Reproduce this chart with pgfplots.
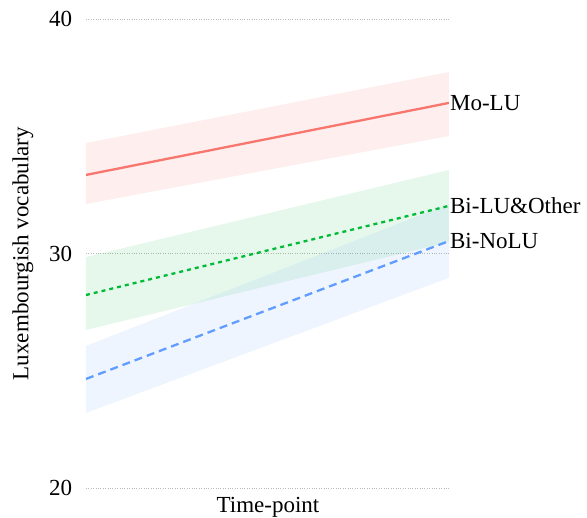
\documentclass[border=0pt]{standalone}
\usepackage{fontspec}
\setmainfont{Liberation Serif}
\usepackage{pgfplots}
\pgfplotsset{compat=1.18}
\definecolor{cred}{HTML}{F8766D}
\definecolor{cgreen}{HTML}{00BA38}
\definecolor{cblue}{HTML}{619CFF}
\begin{document}
\fontsize{23}{27}\selectfont
\begin{tikzpicture}
\begin{axis}[
  scale only axis,
  width=364pt, height=469pt,
  xmin=1, xmax=2.003, ymin=20, ymax=40,
  axis line style={draw=none},
  major tick length=0pt,
  ytick={20,30,40},
  xtick=\empty,
  ymajorgrids,
  grid style={dotted, gray!55, line width=0.8pt},
  /pgf/number format/assume math mode=true,
  ticklabel style={font=\fontsize{23}{27}\selectfont},
  yticklabel style={xshift=-6pt},
  clip=false,
]
% ribbons
\addplot[draw=none, fill=cred, fill opacity=0.12] coordinates {(1,34.71) (2,37.74) (2,35.01) (1,32.11)} -- cycle;
\addplot[draw=none, fill=cgreen, fill opacity=0.1] coordinates {(1,29.85) (2,33.56) (2,30.49) (1,26.74)} -- cycle;
\addplot[draw=none, fill=cblue, fill opacity=0.1] coordinates {(1,26.06) (2,32.11) (2,28.96) (1,23.20)} -- cycle;
% lines
\addplot[cred, line width=2.3pt] coordinates {(1,33.35) (2,36.42)};
\addplot[cgreen, line width=2.3pt, dash pattern=on 4pt off 4pt] coordinates {(1,28.23) (2,32.03)};
\addplot[cblue, line width=2.3pt, dash pattern=on 8pt off 5pt] coordinates {(1,24.65) (2,30.53)};
\node[anchor=west, inner sep=1pt, font=\fontsize{23}{27}\selectfont] at (axis cs:2,36.42) {Mo-LU};
\node[anchor=west, inner sep=1pt, font=\fontsize{23}{27}\selectfont] at (axis cs:2,32.03) {Bi-LU\&Other};
\node[anchor=west, inner sep=1pt, font=\fontsize{23}{27}\selectfont] at (axis cs:2,30.53) {Bi-NoLU};
\end{axis}
\node[font=\fontsize{23}{27}\selectfont, rotate=90] at ([xshift=-63pt]current axis.west) {Luxembourgish vocabulary};
\node[font=\fontsize{23}{27}\selectfont] at ([yshift=-19pt]current axis.south) {Time-point};
\pgfresetboundingbox
\useasboundingbox ([shift={(-86pt,-30pt)}]current axis.south west) rectangle ++(587pt,518pt);
\end{tikzpicture}
\end{document}
